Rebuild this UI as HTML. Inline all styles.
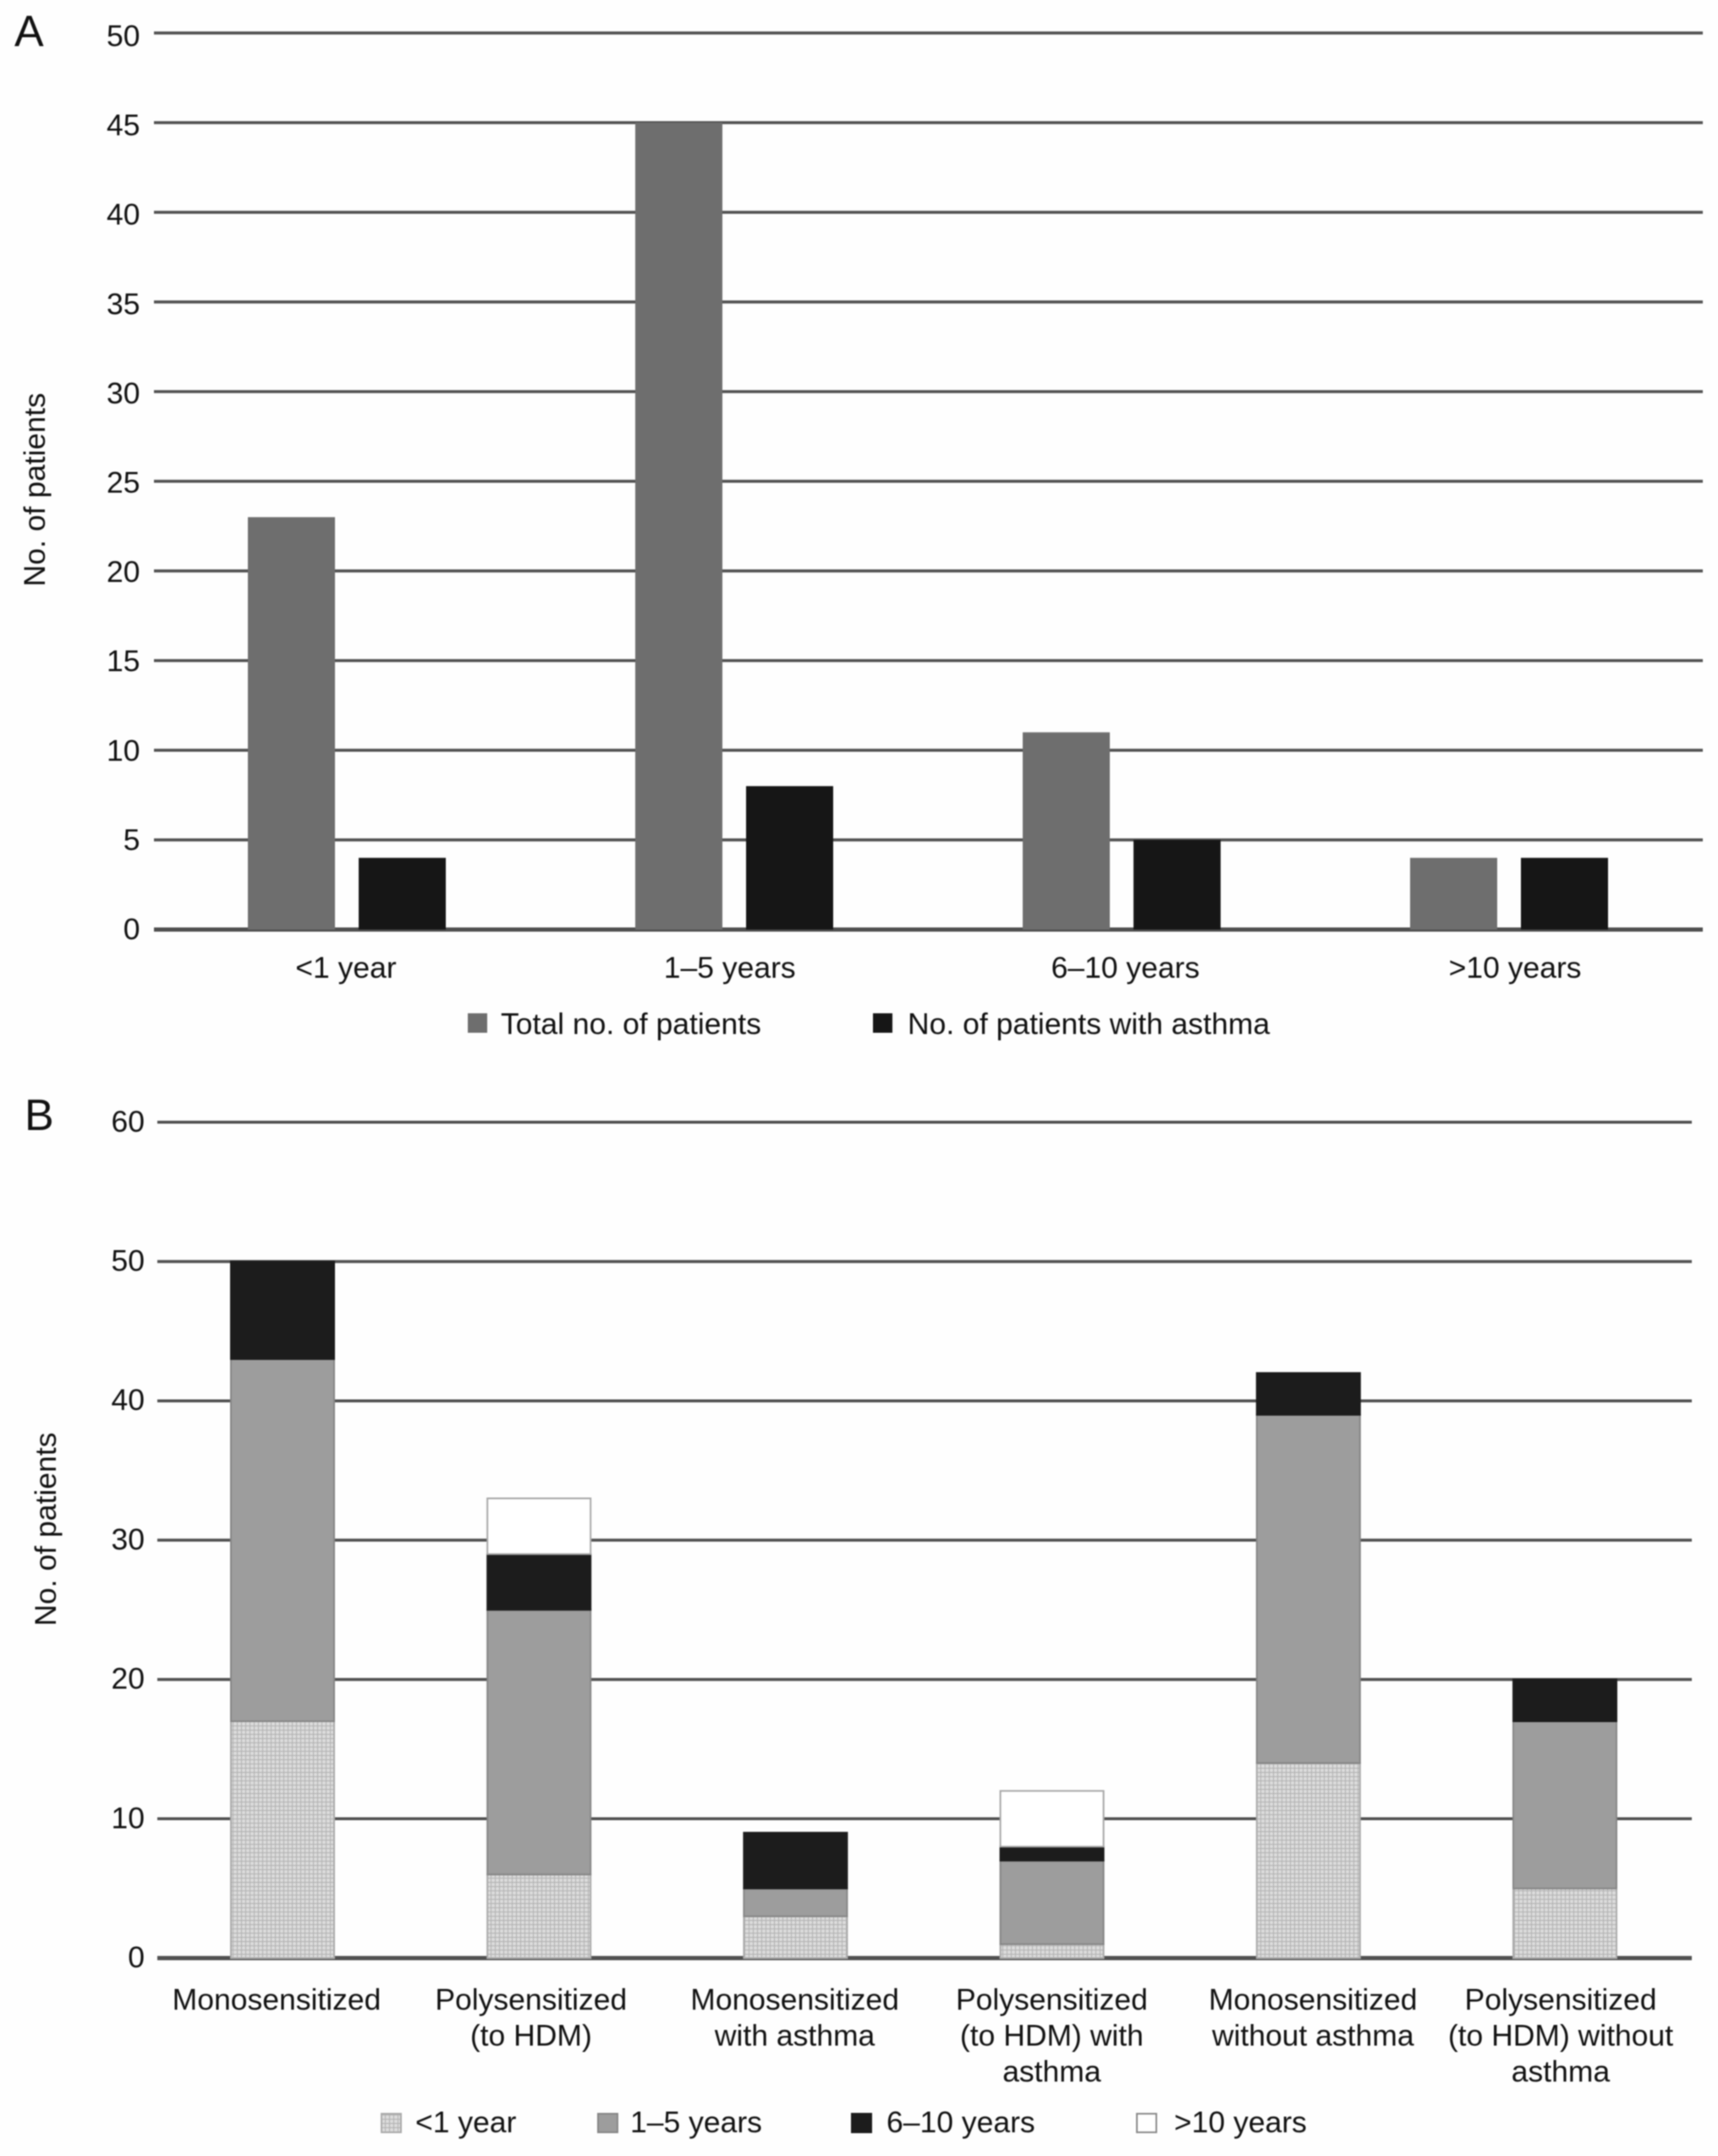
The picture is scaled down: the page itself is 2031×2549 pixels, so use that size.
<!DOCTYPE html>
<html lang="en">
<head>
<meta charset="utf-8">
<title>Patients by symptom duration and sensitization</title>
<style>
html,body{margin:0;padding:0;background:#fefefe;width:2031px;height:2549px;overflow:hidden}
svg{display:block}
text{font-family:"Liberation Sans",sans-serif;fill:#111111;font-size:35.5px}
#figure{filter:blur(0.8px)}
</style>
</head>
<body>
<svg id="chart" xmlns="http://www.w3.org/2000/svg" width="2031" height="2549" viewBox="0 0 2031 2549">
  <defs>
    <pattern id="dots" width="5" height="5" patternUnits="userSpaceOnUse">
      <rect width="5" height="5" fill="#dcdcdc"/>
      <path d="M0 .5H5M.5 0V5" stroke="#b0b0b0" stroke-width="1" fill="none"/>
    </pattern>
  </defs>
  <rect width="2031" height="2549" fill="#fefefe"/>
  <g id="figure">
    <g id="panelA">
      <text x="17" y="54.5" style="font-size:52px">A</text>
      <text transform="translate(53 579) rotate(-90)" text-anchor="middle">No. of patients</text>
    </g>
    <g id="panelB">
      <text x="29" y="1336" style="font-size:52px">B</text>
      <text transform="translate(66 1808) rotate(-90)" text-anchor="middle">No. of patients</text>
    </g>
  </g>
</svg>
<script>
const aCategories = ['<1 year', '1–5 years', '6–10 years', '>10 years'];
const aTotalPatients = [23, 45, 11, 4];
const aAsthmaPatients = [4, 8, 5, 4];
const aTicks = [0, 5, 10, 15, 20, 25, 30, 35, 40, 45, 50];

const bCategories = [
  ['Monosensitized'],
  ['Polysensitized', '(to HDM)'],
  ['Monosensitized', 'with asthma'],
  ['Polysensitized', '(to HDM) with', 'asthma'],
  ['Monosensitized', 'without asthma'],
  ['Polysensitized', '(to HDM) without', 'asthma']
];
const bUnder1 = [17, 6, 3, 1, 14, 5];
const b1to5 = [26, 19, 2, 6, 25, 12];
const b6to10 = [7, 4, 4, 1, 3, 3];
const bOver10 = [0, 4, 0, 4, 0, 0];
const bTicks = [0, 10, 20, 30, 40, 50, 60];

const NS = 'http://www.w3.org/2000/svg';
function make(tag, attrs, parent) {
  const el = document.createElementNS(NS, tag);
  for (const k in attrs) el.setAttribute(k, attrs[k]);
  parent.appendChild(el);
  return el;
}
function slug(s) {
  return String(s).toLowerCase().replace(/</g, 'under-').replace(/>/g, 'over-').replace(/[^a-z0-9]+/g, '-').replace(/^-|-$/g, '');
}

/* Panel A axis functions */
const yA = v => 1099 - v * 21.2;
const yALabel = v => yA(v) + 11.5 + v * 0.08;
const xAGroup = i => 410 + 458 * i;
const xALabel = i => 409 + 460.7 * i - (i === 1 ? 7 : 0);
const A_BAR_W = 103;

/* Panel B axis functions */
const yB = v => 2315 - v * 16.47;
const xBGroup = i => 334 + 303.2 * i;
const xBLabel = i => {
  const handPlacedDx = {1: -4, 2: 3, 3: 2, 4: 6, 5: -6};
  return 327 + 304.8 * i + (handPlacedDx[i] || 0);
};
const B_BAR_W = 122;

const panelA = document.getElementById('panelA');
const panelB = document.getElementById('panelB');

/* Panel A gridlines and ticks */
aTicks.forEach(v => {
  const line = make('line', {x1: 182, x2: 2013, y1: yA(v), y2: yA(v), stroke: '#505050', 'stroke-width': v === 0 ? 5 : 3.5}, panelA);
  
  
  const t = make('text', {x: 165.5, y: yALabel(v), 'text-anchor': 'end'}, panelA);
  t.textContent = v;
  
  
});

/* Panel A bars */
aCategories.forEach((c, i) => {
  const total = make('rect', {x: xAGroup(i) - 117, y: yA(aTotalPatients[i]), width: A_BAR_W, height: yA(0) - yA(aTotalPatients[i]), fill: '#6e6e6e'}, panelA);
  
  
  const asthma = make('rect', {x: xAGroup(i) + 14, y: yA(aAsthmaPatients[i]), width: A_BAR_W, height: yA(0) - yA(aAsthmaPatients[i]), fill: '#161616'}, panelA);
  
  
  const t = make('text', {x: xALabel(i), y: 1156, 'text-anchor': 'middle'}, panelA);
  t.textContent = c;
  
  
});

/* Panel A legend */
const aSwatch1 = make('rect', {x: 553, y: 1198, width: 23, height: 23, fill: '#6e6e6e'}, panelA);


const aLegend1 = make('text', {x: 592, y: 1222.5}, panelA);
aLegend1.textContent = 'Total no. of patients';


const aSwatch2 = make('rect', {x: 1032, y: 1198, width: 23, height: 23, fill: '#161616'}, panelA);


const aLegend2 = make('text', {x: 1073, y: 1222.5}, panelA);
aLegend2.textContent = 'No. of patients with asthma';



/* Panel B gridlines and ticks */
bTicks.forEach(v => {
  const line = make('line', {x1: 186, x2: 2000, y1: yB(v), y2: yB(v), stroke: '#505050', 'stroke-width': v === 0 ? 5 : 3.5}, panelB);
  
  
  const t = make('text', {x: 171, y: yB(v) + 11, 'text-anchor': 'end'}, panelB);
  t.textContent = v;
  
  
});

/* Panel B stacked bars */
const bSeriesStyles = [
  {key: 'under-1-year', fill: 'url(#dots)', stroke: '#aaaaaa'},
  {key: '1-5-years', fill: '#9d9d9d', stroke: '#868686'},
  {key: '6-10-years', fill: '#1c1c1c', stroke: '#1c1c1c'},
  {key: 'over-10-years', fill: '#ffffff', stroke: '#a8a8a8'}
];
const bSeries = [bUnder1, b1to5, b6to10, bOver10];
bCategories.forEach((lines, i) => {
  let base = 0;
  bSeries.forEach((series, s) => {
    const val = series[i];
    if (val > 0) {
      const seg = make('rect', {
        x: xBGroup(i) - B_BAR_W / 2, y: yB(base + val), width: B_BAR_W,
        height: yB(base) - yB(base + val), fill: bSeriesStyles[s].fill,
        stroke: bSeriesStyles[s].stroke, 'stroke-width': 2
      }, panelB);
      
      
    }
    base += val;
  });
  const t = make('text', {'text-anchor': 'middle'}, panelB);
  
  
  lines.forEach((ln, k) => {
    const sp = make('tspan', {x: xBLabel(i), y: 2376 + k * 42.5}, t);
    sp.textContent = ln;
  });
});

/* Panel B legend */
const bLegend = [
  ['<1 year', 451, 491, 'url(#dots)', '#aaaaaa'],
  ['1–5 years', 707, 745, '#9d9d9d', '#868686'],
  ['6–10 years', 1007, 1048, '#1c1c1c', '#1c1c1c'],
  ['>10 years', 1344, 1388, '#ffffff', '#8a8a8a']
];
bLegend.forEach(e => {
  const sw = make('rect', {x: e[1], y: 2499, width: 23, height: 22, fill: e[3], stroke: e[4], 'stroke-width': 2}, panelB);
  
  
  const t = make('text', {x: e[2], y: 2521}, panelB);
  t.textContent = e[0];
  
  
});
</script>
</body>
</html>
